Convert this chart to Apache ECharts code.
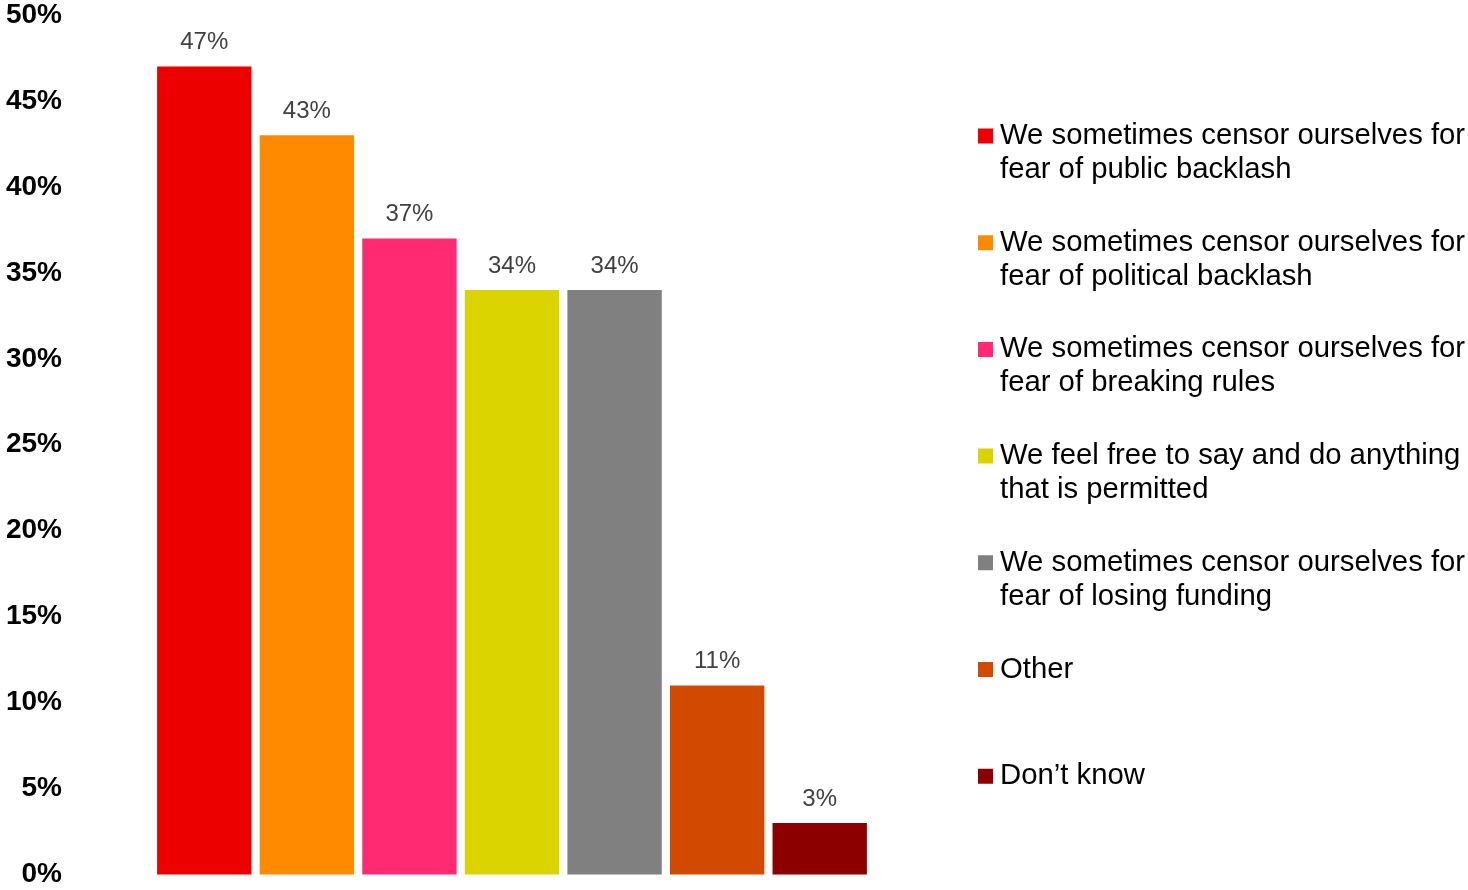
<!DOCTYPE html>
<html>
<head>
<meta charset="utf-8">
<script src="https://cdn.jsdelivr.net/npm/echarts@6/dist/echarts.min.js"></script>
<style>
  html, body { margin: 0; padding: 0; background: #fff; }
  #chart { width: 1468px; height: 890px; }
</style>
</head>
<body>
<div id="chart"></div>
<script>
// answers, wrapped the way the legend shows them
var categories = [
    'We sometimes censor ourselves for\nfear of public backlash',
    'We sometimes censor ourselves for\nfear of political backlash',
    'We sometimes censor ourselves for\nfear of breaking rules',
    'We feel free to say and do anything\nthat is permitted',
    'We sometimes censor ourselves for\nfear of losing funding',
    'Other\n ',
    'Don\u2019t know\n '
];
var values = [47, 43, 37, 34, 34, 11, 3];
var colors = ['#ec0000', '#ff8a00', '#ff2a72', '#dcd400', '#808080', '#d24a02', '#8c0000'];
var yTicks = [0, 50, 5];   // min, max, step

window.onload = function () {
    var chart = echarts.init(document.getElementById('chart'));

    // one series per answer so the legend lists each one, stacked so the bars sit in their own slot
    var series = [];
    for (var i = 0; i < categories.length; i++) {
        var data = [];
        for (var j = 0; j < categories.length; j++) {
            data.push(j === i ? values[i] : '-');
        }
        series.push({
            name: categories[i],
            type: 'bar',
            stack: 'all',
            barCategoryGap: '8%',
            itemStyle: { color: colors[i] },
            label: {
                show: true,
                position: 'top',
                distance: 12,
                formatter: '{c}%',
                color: '#404040',
                fontSize: 24,
                fontFamily: 'Liberation Sans'
            },
            data: data
        });
    }

    var option = {
        backgroundColor: '#fff',
        animation: false,
        textStyle: { fontFamily: 'Liberation Sans' },
        grid: { left: 153, right: 597, top: 15, bottom: 15.5 },
        legend: {
            orient: 'vertical',
            left: 978,
            top: 119,
            padding: 0,
            itemWidth: 17,
            itemHeight: 49,
            itemGap: 38.7,
            // square sits beside the first text line, the rest of the box is empty
            icon: 'path://M0,0h15v15h-15zM0,49h17',
            selectedMode: false,
            textStyle: {
                fontSize: 29.3,
                lineHeight: 34,
                color: '#000'
            },
            data: categories
        },
        xAxis: {
            type: 'category',
            data: categories,
            axisLine: { show: false },
            axisTick: { show: false },
            axisLabel: { show: false }
        },
        yAxis: {
            type: 'value',
            min: yTicks[0],
            max: yTicks[1],
            interval: yTicks[2],
            axisLine: { show: false },
            axisTick: { show: false },
            splitLine: { show: false },
            axisLabel: {
                formatter: '{value}%',
                fontSize: 28,
                fontWeight: 'bold',
                color: '#000',
                margin: 91
            }
        },
        series: series
    };

    chart.setOption(option);
};
</script>
</body>
</html>
